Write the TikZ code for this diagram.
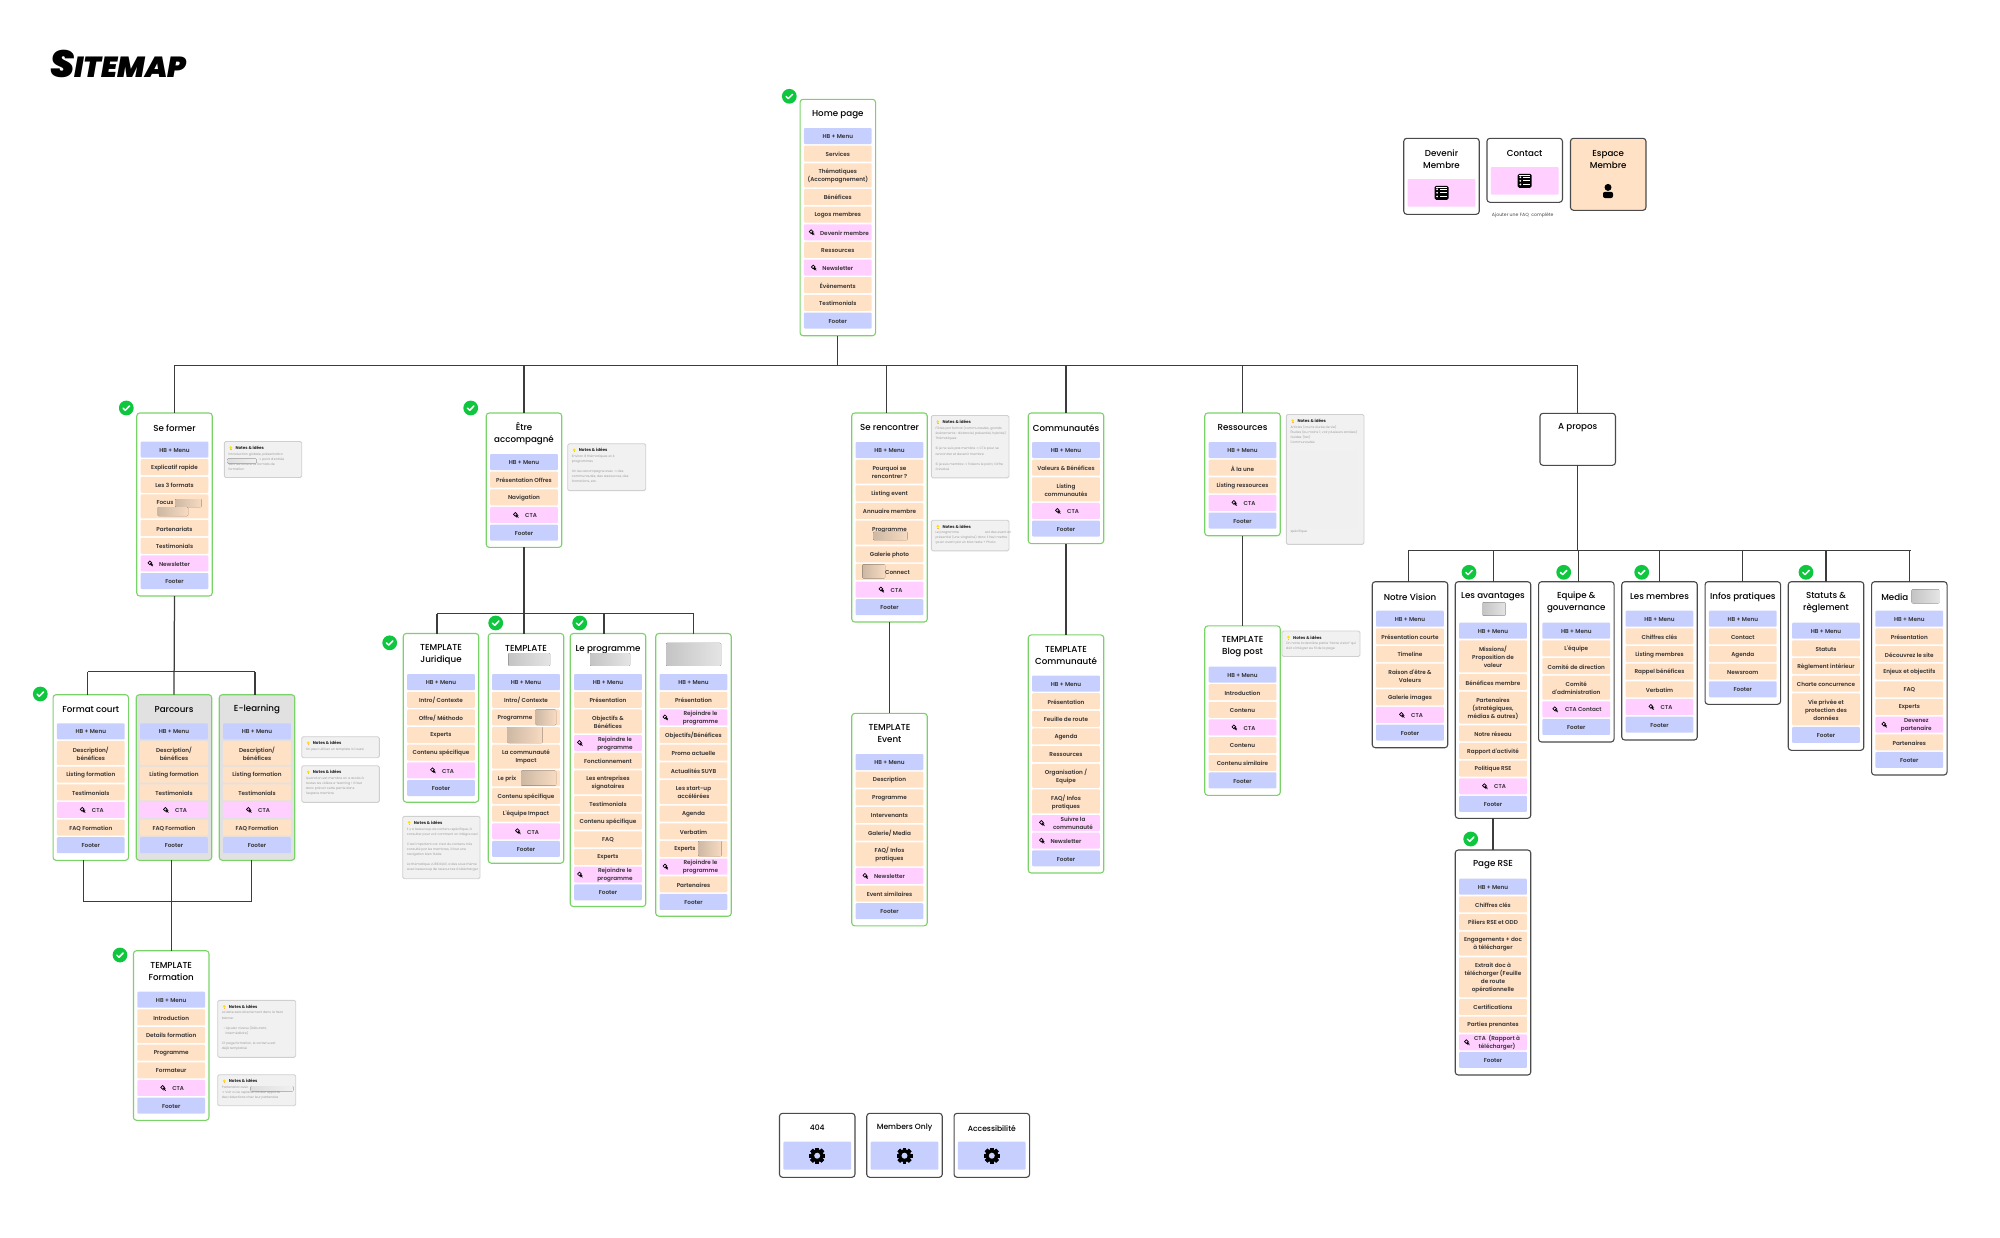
\documentclass[tikz,border=0pt]{standalone}
\usepackage{fontspec}
\setmainfont{Poppins}
\newfontfamily\rowfont{Poppins SemiBold}
\newfontfamily\titlefont{Poppins Medium}
\newfontfamily\brushfont{Poppins Black}
\newfontfamily\dejafont{DejaVu Sans}
\definecolor{menublue}{HTML}{C6CFFD}
\definecolor{bodypeach}{HTML}{FFE1C6}
\definecolor{ctapink}{HTML}{FFCFFF}
\definecolor{framegreen}{HTML}{7AD368}
\definecolor{framedark}{HTML}{4A4A4A}
\definecolor{tickgreen}{HTML}{0FC63F}
\definecolor{linedark}{HTML}{3C3C3C}
\definecolor{notefill}{HTML}{F1F1F1}
\definecolor{noteedge}{HTML}{CFCFCF}
\definecolor{notetext}{HTML}{9C9C9C}
\definecolor{cardgrey}{HTML}{E1E1E1}
\definecolor{blurtan}{HTML}{CDB8A4}
\definecolor{blurgrey}{HTML}{C4C4C4}
\definecolor{blurnote}{HTML}{DEDEDE}
\tikzset{
	rowbox/.style={inner sep=0pt,outer sep=0pt,minimum width=67.8,rounded corners=1},
	rowtext/.style={inner sep=0pt,align=center,yshift=-.7pt,text=black!80,font=\rowfont\fontsize{5.7}{8}\selectfont},
	card/.style={draw,line width=1.1,rounded corners=3,inner sep=0pt,outer sep=0pt,minimum width=75.5,anchor=north},
	greencard/.style={card,draw=framegreen},
	darkcard/.style={card,draw=framedark},
	cardtitle/.style={inner sep=0pt,align=center,yshift=-.8pt,text=black,font=\titlefont\fontsize{8.7}{12}\selectfont},
	link/.style={draw=linedark,line width=1.25},
	notebox/.style={draw=noteedge,fill=notefill,line width=.9,rounded corners=1.5,inner sep=0pt,outer sep=0pt,anchor=north west},
	notehead/.style={inner sep=0pt,anchor=west,text=black!85,font=\bfseries\fontsize{4.1}{5}\selectfont},
	notebody/.style={inner sep=0pt,anchor=north west,align=left,text=notetext,font=\fontsize{3.2}{5.1}\selectfont},
	cursor/.pic={
		\draw[black,line width=.7] (-.6,-.6) circle (1.9);
		\fill[black] (-.3,-.3) -- (2.7,.8) -- (1.5,1.3) -- (2.7,2.6) -- (2.2,3) -- (1.1,1.7) -- (.6,2.8) -- cycle;
	},
	tick/.pic={
		\fill[tickgreen] (0,0) circle (7.4);
		\draw[white,line width=1.5,line cap=round,line join=round] (-3.2,.2) -- (-1,2.3) -- (3.2,-2);
	},
	bulb/.pic={
		\fill[yellow!85!orange] (0,-.4) circle (1.5);
		\fill[orange!60] (-.7,1) rectangle (.7,1.9);
	},
	gearicon/.pic={
		\foreach \a in {0,45,...,315}
			\fill[black,rotate=\a] (-1.9,-8) rectangle (1.9,8);
		\fill[black] (0,0) circle (6.4);
		\fill[menublue] (0,0) circle (3);
	},
	formicon/.pic={
		\fill[black,rounded corners=1.6] (-7,-7) rectangle (7,7);
		\foreach \b in {-3.6,0,3.6}{
			\fill[white] (-4.4,\b) circle (1);
			\fill[white] (-2,\b-.4) rectangle (5,\b+.4);
		}
		\fill[white] (-5.3,-5.5) rectangle (5,-5.1);
	},
	personicon/.pic={
		\fill[black] (0,-3.6) circle (3.5);
		\fill[black,rounded corners=2] (-5,.8) rectangle (5,7);
	}
}
\newcount\rowno
\newcommand{\cardbox}[8][]{
	\pgfmathsetmacro{\cardh}{#5-#4}
	\node[#1,minimum height=\cardh] (#2) at (#3,#4) {};
	\node[cardtitle] (#2-title) at (#3,#6) {#7};
	\def\cardname{#2}\def\cardx{#3}\def\rowtop{#8}\rowno=0
}
\newcommand{\putrow}[4][0]{
	\advance\rowno by 1
	\pgfmathsetmacro{\rowmid}{\rowtop+#3/2}
	\node[rowbox,fill=#2,minimum height=#3] (\cardname-\the\rowno) at (\cardx,\rowmid) {};
	\node[rowtext] (\cardname-\the\rowno-text) at ([xshift=#1]\cardname-\the\rowno.center) {#4};
	\pgfmathsetmacro{\newtop}{\rowtop+#3+1.65}
	\let\rowtop\newtop
}
\newcommand{\rowbd}[2][16]{\putrow{bodypeach}{#1}{#2}}
\newcommand{\rowmenu}{\putrow{menublue}{16}{HB + Menu}}
\newcommand{\rowfooter}{\putrow{menublue}{16}{Footer}}
\newcommand{\rowpink}[3]{
	\putrow[#2]{ctapink}{16}{#3}
	\pic at ([xshift=#1]\cardname-\the\rowno.center) {cursor};
}
\newcommand{\rowcta}{\rowpink{-8}{7}{CTA}}
\newcommand{\rowletter}{\rowpink{-24}{0}{Newsletter}}
\newcommand{\rowjoin}{\rowpink{-28}{7}{Rejoindre le\\programme}}
\newcommand{\blurbit}[5]{\fill[left color=#5,right color=#5!45,rounded corners=1] (#1,#2) rectangle (#3,#4);}
\newcommand{\blurpeach}[4]{\fill[left color=blurtan,right color=bodypeach!85!blurtan,rounded corners=1] (#1,#2) rectangle (#3,#4);}
\newcommand{\notecard}[6]{
	\pgfmathsetmacro{\notew}{#4-#2}
	\pgfmathsetmacro{\noteh}{#5-#3}
	\node[notebox,minimum width=\notew,minimum height=\noteh] (#1) at (#2,#3) {};
	\pic at ([shift={(6.5,6.5)}]#1.north west) {bulb};
	\node[notehead] (#1-head) at ([shift={(11,6.5)}]#1.north west) {Notes \& idées};
	\node[notebody] (#1-body) at ([shift={(4,11)}]#1.north west) {#6};
}
\newcommand{\arrowmark}{{\dejafont →}}
\begin{document}
\begin{tikzpicture}[x=1pt,y=-1pt]
	\useasboundingbox (0,0) rectangle (2000,1237);
	\node[inner sep=0pt,anchor=west] (sitemap) at (50,64) {\brushfont\itshape\fontsize{38}{38}\selectfont S\fontsize{29}{29}\selectfont ITEMAP};

	\cardbox[greencard]{home}{837.8}{99.3}{335.7}{113.7}{Home page}{128}
	\rowmenu \rowbd{Services} \rowbd[24]{Thématiques\\(Accompagnement)} \rowbd{Bénéfices} \rowbd{Logos membres}
	\rowpink{-26}{6.7}{Devenir membre} \rowbd{Ressources} \rowletter \rowbd{Évènements} \rowbd{Testimonials} \rowfooter

	\cardbox[darkcard]{devenir}{1441.5}{138.3}{214.3}{158.3}{Devenir\\Membre}{179}
	\putrow{ctapink}{27.7}{}
	\pic at (devenir-1.center) {formicon};
	\cardbox[darkcard]{contact}{1524.7}{138.3}{202.3}{152.3}{Contact}{167}
	\putrow{ctapink}{27.7}{}
	\pic at (contact-1.center) {formicon};
	\cardbox[darkcard,fill=bodypeach]{espace}{1608.2}{138.3}{210.3}{158.3}{Espace\\Membre}{179}
	\pic at (1608,191) {personicon};
	\node[inner sep=0pt,text=black!60,font=\titlefont\fontsize{4.6}{5}\selectfont] (faq) at (1522.7,215) {Ajouter une FAQ\ \ complète};

	\cardbox[greencard]{former}{174.5}{413}{596}{426.9}{Se former}{441.5}
	\rowmenu \rowbd{Explicatif rapide} \rowbd{Les 3 formats} \rowbd[24]{\phantom{x}}
	\blurpeach{175}{499}{201.7}{507}
	\blurpeach{157.7}{507}{188}{516}
	\node[rowtext] (focus) at (165,502) {Focus};
	\rowbd{Partenariats} \rowbd{Testimonials} \rowletter \rowfooter

	\cardbox[greencard]{court}{90.8}{694.7}{860.3}{709}{Format court}{723.3}
	\rowmenu \rowbd[24]{Description/\\bénéfices} \rowbd{Listing formation} \rowbd{Testimonials} \rowcta \rowbd{FAQ Formation} \rowfooter
	\cardbox[greencard,fill=cardgrey]{parcours}{174}{694.7}{860.3}{709}{Parcours}{723.3}
	\rowmenu \rowbd[24]{Description/\\bénéfices} \rowbd{Listing formation} \rowbd{Testimonials} \rowcta \rowbd{FAQ Formation} \rowfooter
	\cardbox[greencard,fill=cardgrey]{elearn}{257}{694.7}{860.3}{709}{E-learning}{723.3}
	\rowmenu \rowbd[24]{Description/\\bénéfices} \rowbd{Listing formation} \rowbd{Testimonials} \rowcta \rowbd{FAQ Formation} \rowfooter
	\cardbox[greencard]{tformation}{171.2}{950.7}{1120.3}{970.7}{TEMPLATE\\Formation}{991.7}
	\rowmenu \rowbd{Introduction} \rowbd{Details formation} \rowbd{Programme} \rowbd{Formateur} \rowcta \rowfooter

	\cardbox[greencard]{etre}{524}{413}{547.4}{433.4}{Être\\accompagné}{454}
	\rowmenu \rowbd{Présentation Offres} \rowbd{Navigation} \rowcta \rowfooter
	\cardbox[greencard]{juridique}{441}{633.5}{802.2}{653.4}{TEMPLATE\\Juridique}{674.1}
	\rowmenu \rowbd{Intro/ Contexte} \rowbd{Offre/ Méthodo} \rowbd{Experts} \rowbd{Contenu spécifique} \rowcta \rowfooter
	\cardbox[greencard]{timpact}{526}{633.5}{863.2}{653.4}{TEMPLATE\\\phantom{x}}{674.1}
	\rowmenu \rowbd{Intro/ Contexte} \rowbd{Programme\hspace{22pt}} \rowbd{} \rowbd[24]{La communauté\\Impact} \rowbd{Le prix\hspace{38pt}} \rowbd{Contenu spécifique} \rowbd{L'équipe Impact} \rowcta \rowfooter
	\blurbit{508.3}{653}{550}{665.8}{blurgrey}
	\blurpeach{535.7}{709.5}{556}{725}
	\blurpeach{507.3}{727}{542.7}{743}
	\blurpeach{521}{770.5}{556}{785.5}
	\cardbox[greencard]{programme}{608}{633.5}{906.5}{653.4}{Le programme\\\phantom{x}}{674.1}
	\rowmenu \rowbd{Présentation} \rowbd[24]{Objectifs \&\\Bénéfices} \rowjoin \rowbd{Fonctionnement} \rowbd[24]{Les entreprises\\signataires} \rowbd{Testimonials} \rowbd{Contenu spécifique} \rowbd{FAQ} \rowbd{Experts} \rowjoin \rowfooter
	\blurbit{590}{653}{630}{665.8}{blurgrey}
	\cardbox[greencard]{suyb}{693.5}{633.5}{916.2}{653.4}{}{674.1}
	\rowmenu \rowbd{Présentation} \rowjoin \rowbd{Objectifs/Bénéfices} \rowbd{Promo actuelle} \rowbd{Actualités SUYB} \rowbd[24]{Les start-up\\accélérées} \rowbd{Agenda} \rowbd{Verbatim} \rowbd{Experts\hspace{17pt}} \rowjoin \rowbd{Partenaires} \rowfooter
	\blurbit{666}{642.8}{721}{665.8}{blurgrey}
	\blurpeach{698}{841}{721.7}{856}

	\cardbox[greencard]{rencontrer}{889.5}{413}{622}{427}{Se rencontrer}{442}
	\rowmenu \rowbd[24]{Pourquoi se\\rencontrer ?} \rowbd{Listing event} \rowbd{Annuaire membre} \rowbd[24]{Programme\\\phantom{x}} \rowbd{Galerie photo} \rowbd{\hspace{16pt}Connect} \rowcta \rowfooter
	\blurpeach{873}{531.9}{907.5}{540.2}
	\blurpeach{862.4}{564.3}{885}{578.4}
	\cardbox[greencard]{tevent}{889.5}{713.4}{925.8}{733}{TEMPLATE\\Event}{754}
	\rowmenu \rowbd{Description} \rowbd{Programme} \rowbd{Intervenants} \rowbd{Galerie/ Media} \rowbd[24]{FAQ/ Infos\\pratiques} \rowletter \rowbd{Event similaires} \rowfooter

	\cardbox[greencard]{commu}{1066}{413}{543.6}{427}{Communautés}{442}
	\rowmenu \rowbd{Valeurs \& Bénéfices} \rowbd[24]{Listing\\communautés} \rowcta \rowfooter
	\cardbox[greencard]{tcommu}{1066}{634.9}{873}{654.7}{TEMPLATE\\Communauté}{675.5}
	\rowmenu \rowbd{Présentation} \rowbd{Feuille de route} \rowbd{Agenda} \rowbd{Ressources} \rowbd[24]{Organisation /\\Equipe} \rowbd[24]{FAQ/ Infos\\pratiques} \rowpink{-24}{7}{Suivre la\\communauté} \rowletter \rowfooter

	\cardbox[greencard]{ressources}{1242.5}{413}{535.7}{427}{Ressources}{442}
	\rowmenu \rowbd{À la une} \rowbd{Listing ressources} \rowcta \rowfooter
	\cardbox[greencard]{tblog}{1242.5}{625.9}{795.3}{646}{TEMPLATE\\Blog post}{666.5}
	\rowmenu \rowbd{Introduction} \rowbd{Contenu} \rowcta \rowbd{Contenu} \rowbd{Contenu similaire} \rowfooter

	\cardbox[darkcard]{apropos}{1577.7}{413.3}{465.3}{427.3}{A propos}{480}
	\cardbox[darkcard]{vision}{1410}{581.7}{747.7}{596}{Notre Vision}{610.7}
	\rowmenu \rowbd{Présentation courte} \rowbd{Timeline} \rowbd[24]{Raison d'être \&\\Valeurs} \rowbd{Galerie images} \rowcta \rowfooter
	\cardbox[darkcard]{avantages}{1493}{581.7}{818.3}{596}{Les avantages}{622.7}
	\rowmenu \rowbd[32]{Missions/\\Proposition de\\valeur} \rowbd{Bénéfices membre} \rowbd[32]{Partenaires\\(stratégiques,\\médias \& autres)} \rowbd{Notre réseau} \rowbd{Rapport d'activité} \rowbd{Politique RSE} \rowcta \rowfooter
	\blurbit{1482.3}{602.3}{1505.7}{615.7}{blurgrey}
	\cardbox[darkcard]{equipe}{1576.3}{581.7}{742}{602}{Equipe \&\\gouvernance}{622.7}
	\rowmenu \rowbd{L'équipe} \rowbd{Comité de direction} \rowbd[24]{Comité\\d'administration} \rowpink{-21}{7}{CTA Contact} \rowfooter
	\cardbox[darkcard]{membres}{1659.5}{581.7}{740}{596}{Les membres}{610.7}
	\rowmenu \rowbd{Chiffres clés} \rowbd{Listing membres} \rowbd{Rappel bénéfices} \rowbd{Verbatim} \rowcta \rowfooter
	\cardbox[darkcard]{infos}{1742.8}{581.7}{704.3}{596}{Infos pratiques}{610.7}
	\rowmenu \rowbd{Contact} \rowbd{Agenda} \rowbd{Newsroom} \rowfooter
	\cardbox[darkcard]{statuts}{1826}{581.7}{750.3}{602}{Statuts \&\\règlement}{622.7}
	\rowmenu \rowbd{Statuts} \rowbd{Règlement intérieur} \rowbd{Charte concurrence} \rowbd[32]{Vie privée et\\protection des\\données} \rowfooter
	\cardbox[darkcard]{media}{1909.3}{581.7}{775}{596}{Media\hspace{29pt}}{610.7}
	\rowmenu \rowbd{Présentation} \rowbd{Découvrez le site} \rowbd{Enjeux et objectifs} \rowbd{FAQ} \rowbd{Experts} \rowpink{-25}{7}{Devenez\\partenaire} \rowbd{Partenaires} \rowfooter
	\blurbit{1911.7}{589.3}{1939.3}{603.3}{blurgrey}
	\cardbox[darkcard]{rse}{1493}{850}{1075}{864}{Page RSE}{878.7}
	\rowmenu \rowbd{Chiffres clés} \rowbd{Piliers RSE et ODD} \rowbd[24]{Engagements + doc\\à télécharger} \rowbd[40]{Extrait doc à\\télécharger (Feuille\\de route\\opérationnelle} \rowbd{Certifications} \rowbd{Parties prenantes} \rowpink{-26}{4}{CTA\ \ (Rapport à\\télécharger)} \rowfooter

	\cardbox[darkcard]{err}{817.2}{1113.3}{1177.3}{1127.3}{\fontsize{7.6}{10}\selectfont 404}{1141.7}
	\putrow{menublue}{28}{}
	\pic at (err-1.center) {gearicon};
	\cardbox[darkcard]{only}{904.5}{1113.3}{1177.3}{1127.3}{\fontsize{7.6}{10}\selectfont Members Only}{1141.7}
	\putrow{menublue}{28}{}
	\pic at (only-1.center) {gearicon};
	\cardbox[darkcard]{access}{991.8}{1113.3}{1177.3}{1127.3}{\fontsize{7.6}{10}\selectfont Accessibilité}{1141.7}
	\putrow{menublue}{28}{}
	\pic at (access-1.center) {gearicon};

	\notecard{noteformer}{224.3}{441.5}{301.7}{477.5}{Introduction globale, présentation\\\hspace*{30pt}\arrowmark{} point d'entrée\\vers les différents formats de\\formation}
	\blurbit{227.3}{458.5}{256.7}{463.5}{blurnote}
	\notecard{notelearn}{301.7}{736.7}{379.3}{757.7}{On peut utiliser un template ici aussi}
	\notecard{notevideo}{301.7}{765.7}{379.3}{802.3}{Quand on est membre on a accès à\\toutes les vidéos e-learning ! Il faut\\donc prévoir cette partie dans\\l'espace membre}
	\notecard{notedate}{217.7}{1000.3}{295.7}{1057.3}{La date sera directement dans la Hero\\banner\\[5pt]\ \ •\ Ajouter niveau (Débutant,\\\ \ \ \ intermédiaire)\\[5pt]Cf page formation, le contenu est\\déjà templatisé}
	\notecard{notepart}{217.7}{1074.7}{295.7}{1105.7}{Partenariat avec\\\arrowmark{} Voir où le replacer ca leur apporte\\des réductions chez leur partenaire}
	\blurbit{250.7}{1086}{293.3}{1091.3}{blurnote}
	\notecard{noteetre}{567.7}{443.7}{645.7}{490.6}{Environ 8 thématiques et 4\\programmes\\[5pt]On les accompagne avec \arrowmark{} des\\communautés, des ressources, des\\formations, etc.}
	\notecard{notejur}{402.7}{816.3}{480}{878.7}{Il y a beaucoup de contenu spécifique, à\\consulter pour voir comment on intègre ceci\\[5pt]C'est important car c'est du contenu très\\consulté par les membres, il faut une\\navigation bien fluide\\[5pt]La thématique JURIDIQUE, a des sous thème\\avec beaucoup de ressources à télécharger}
	\notecard{noteevent}{931.3}{415.5}{1009}{477.8}{Filtres par format (communautés, grands\\événements : distanciel, présentiel, hybride)\\Thématiques\\[5pt]Si je ne suis pas membre \arrowmark{} CTA pour se\\rencontrer et devenir membre\\[5pt]Si je suis membre \arrowmark{} Faisons le point, l'offre\\à évalué}
	\notecard{noteprog}{931.3}{520.2}{1009}{550.8}{Le programme\hspace{26pt}est des event en\\présentiel (une vingtaine) donc il faut mettre\\ça en avant par un bloc texte + Photo}
	\notecard{noteress}{1286.3}{414.5}{1364}{544.3}{Articles (courts durée de vie)\\Études (au moins 1; voir plusieurs années)\\Guides (1an)\\Communautés\\[78pt]dans les ressources pas dans le contenu\\spécifique}
	\fill[black!6,rounded corners=1] (1289.7,451.7) rectangle (1357,528.8);
	\notecard{noteblog}{1282}{631}{1360}{656.5}{On notre la dernière partie "Notre vision" qui\\doit s'intégrer au fil de la page}

	\pic at (789.3,96.3) {tick};
	\pic at (126.3,408) {tick};
	\pic at (470.7,408) {tick};
	\pic at (40.3,694) {tick};
	\pic at (120,955) {tick};
	\pic at (389.7,642.8) {tick};
	\pic at (495.7,623) {tick};
	\pic at (579.7,623) {tick};
	\pic at (1469,572.3) {tick};
	\pic at (1563.7,572.3) {tick};
	\pic at (1641.7,572.3) {tick};
	\pic at (1806,572.3) {tick};
	\pic at (1470.7,839) {tick};

	\coordinate (busmain) at (175,365.3);
	\coordinate (busform) at (87.7,671.7);
	\coordinate (busjoin) at (84,901.7);
	\coordinate (busetre) at (437,613.5);
	\coordinate (busabout) at (1408.3,550.5);
	\draw[link] (busmain) -- (1578,365.3);
	\draw[link] (home.south) -- (home.south |- busmain);
	\draw[link] (former.north) -- (former.north |- busmain);
	\draw[link] (etre.north) -- (etre.north |- busmain);
	\draw[link] ([xshift=-3]rencontrer.north) -- ([xshift=-3]rencontrer.north |- busmain);
	\draw[link] (commu.north) -- (commu.north |- busmain);
	\draw[link] (ressources.north) -- (ressources.north |- busmain);
	\draw[link] (apropos.north) -- (apropos.north |- busmain);
	\draw[link] (former.south) -- (parcours.north);
	\draw[link] (busform) -- (255,671.7);
	\draw[link] ([xshift=-3]court.north) -- ([xshift=-3]court.north |- busform);
	\draw[link] ([xshift=-2]elearn.north) -- ([xshift=-2]elearn.north |- busform);
	\draw[link] (busjoin) -- (251.7,901.7);
	\draw[link] ([xshift=-7]court.south) -- ([xshift=-7]court.south |- busjoin);
	\draw[link] ([xshift=-2.3]parcours.south) -- ([xshift=-2.3]parcours.south |- busjoin);
	\draw[link] ([xshift=-5.3]elearn.south) -- ([xshift=-5.3]elearn.south |- busjoin);
	\draw[link] (tformation.north) -- (tformation.north |- busjoin);
	\draw[link] (etre.south) -- (etre.south |- busetre);
	\draw[link] (busetre) -- (694,613.5);
	\draw[link] ([xshift=-4]juridique.north) -- ([xshift=-4]juridique.north |- busetre);
	\draw[link] ([xshift=-2]timpact.north) -- ([xshift=-2]timpact.north |- busetre);
	\draw[link] ([xshift=-4]programme.north) -- ([xshift=-4]programme.north |- busetre);
	\draw[link] (suyb.north) -- (suyb.north |- busetre);
	\draw[link] (rencontrer.south) -- (tevent.north);
	\draw[link] (commu.south) -- (tcommu.north);
	\draw[link] (ressources.south) -- (tblog.north);
	\draw[link] (apropos.south) -- (apropos.south |- busabout);
	\draw[link] (busabout) -- (1911,550.5);
	\draw[link] ([xshift=-1.7]vision.north) -- ([xshift=-1.7]vision.north |- busabout);
	\draw[link] ([xshift=.7]avantages.north) -- ([xshift=.7]avantages.north |- busabout);
	\draw[link] ([xshift=2]equipe.north) -- ([xshift=2]equipe.north |- busabout);
	\draw[link] (membres.north) -- (membres.north |- busabout);
	\draw[link] (infos.north) -- (infos.north |- busabout);
	\draw[link] (statuts.north) -- (statuts.north |- busabout);
	\draw[link] (media.north) -- (media.north |- busabout);
	\draw[link] (avantages.south) -- (rse.north);
\end{tikzpicture}
\end{document}
